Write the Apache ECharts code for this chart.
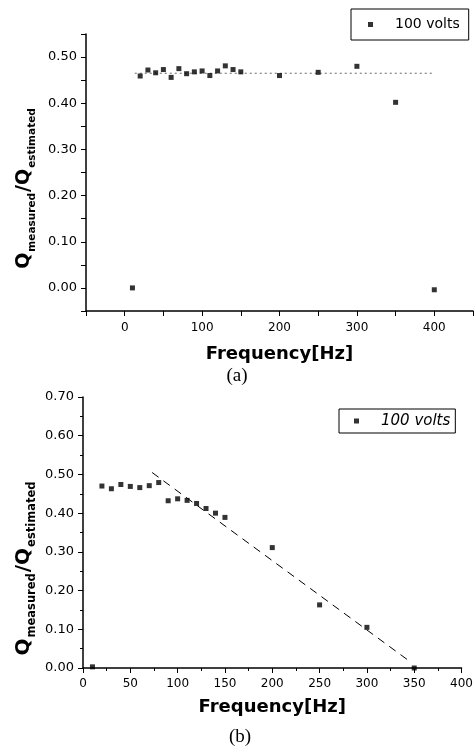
<!DOCTYPE html>
<html>
<head>
<meta charset="utf-8">
<script src="https://cdn.jsdelivr.net/npm/echarts@6/dist/echarts.min.js"></script>
<style>
  html, body { margin: 0; padding: 0; background: #fff; }
  #chart { width: 476px; height: 746px; }
</style>
</head>
<body>
<div id="chart"></div>
<script>
// (a) Q ratio vs frequency
const freqA = [10, 20, 30, 40, 50, 60, 70, 80, 90, 100, 110, 120, 130, 140, 150, 200, 250, 300, 350, 400]
const valA = [0.000, 0.459, 0.472, 0.466, 0.473, 0.456, 0.475, 0.464, 0.468, 0.470, 0.460, 0.470, 0.481, 0.473, 0.468, 0.460, 0.467, 0.480, 0.402, -0.004]
// dotted mean line in (a)
const fitAX = [13, 398]
const fitAY = [0.465, 0.465]

// (b) Q ratio vs frequency
const freqB = [10, 20, 30, 40, 50, 60, 70, 80, 90, 100, 110, 120, 130, 140, 150, 200, 250, 300, 350]
const valB = [0.003, 0.470, 0.463, 0.474, 0.469, 0.466, 0.471, 0.479, 0.432, 0.437, 0.433, 0.425, 0.412, 0.400, 0.389, 0.311, 0.163, 0.105, 0.000]
// dashed trend line in (b)
const fitBX = [73, 347]
const fitBY = [0.505, 0.014]

const seriesName = '100 volts'
const xName = 'Frequency[Hz]'
const yNameRich = '{q|Q}{s|measured}{q|/Q}{s|estimated}'

const font = 'DejaVu Sans'
const pairs = (xs, ys) => xs.map((x, i) => [x, ys[i]])

const axisLine = { onZero: false, lineStyle: { color: '#000', width: 1.5 } }
const axisTick = { inside: false, length: 5, lineStyle: { color: '#000', width: 1 } }

// rotated y title, subscript pushed down with top padding
function yTitle(big, small, pad) {
  return {
    text: yNameRich,
    align: 'center',
    verticalAlign: 'middle',
    rich: {
      q: { fontFamily: font, fontWeight: 'bold', fontSize: big, lineHeight: big + 4, verticalAlign: 'top', fill: '#000' },
      s: { fontFamily: font, fontWeight: 'bold', fontSize: small, lineHeight: small, verticalAlign: 'bottom', padding: [pad, 1, 0, 1], fill: '#000' }
    }
  }
}

const option = {
  animation: false,
  backgroundColor: '#fff',
  grid: [
    { left: 86, top: 34, width: 392, height: 277 },
    { left: 83, top: 397, width: 382, height: 271 }
  ],
  legend: [
    {
      data: [seriesName],
      left: 351,
      top: 9,
      padding: [6, 9, 6, 17],
      itemWidth: 5,
      itemHeight: 5,
      icon: 'rect',
      selectedMode: false,
      borderColor: '#000',
      borderWidth: 1,
      textStyle: { fontFamily: font, fontSize: 14, lineHeight: 19, color: '#000', padding: [0, 0, 0, 17] }
    },
    {
      data: [seriesName],
      left: 339,
      top: 409,
      padding: [3, 5, 3, 15],
      itemWidth: 5,
      itemHeight: 5,
      icon: 'rect',
      selectedMode: false,
      borderColor: '#000',
      borderWidth: 1,
      textStyle: { fontFamily: font, fontSize: 15, fontStyle: 'italic', lineHeight: 18, color: '#000', padding: [0, 0, 0, 17] }
    }
  ],
  xAxis: [
    {
      gridIndex: 0,
      type: 'value',
      min: -50,
      max: 450,
      interval: 50,
      name: xName,
      nameLocation: 'middle',
      nameGap: 34,
      nameTextStyle: { fontFamily: font, fontWeight: 'bold', fontSize: 18, color: '#000' },
      axisLine: axisLine,
      axisTick: axisTick,
      splitLine: { show: false },
      axisLabel: {
        margin: 11,
        fontFamily: font,
        fontSize: 12,
        color: '#000',
        formatter: v => (v >= 0 && v <= 400 && Math.round(v) % 100 === 0) ? String(Math.round(v)) : ''
      }
    },
    {
      gridIndex: 1,
      type: 'value',
      min: 0,
      max: 400,
      interval: 50,
      name: xName,
      nameLocation: 'middle',
      nameGap: 30,
      nameTextStyle: { fontFamily: font, fontWeight: 'bold', fontSize: 18, color: '#000' },
      axisLine: axisLine,
      axisTick: axisTick,
      minorTick: { show: true, splitNumber: 2, length: 3, lineStyle: { color: '#000' } },
      splitLine: { show: false },
      axisLabel: { margin: 10, fontFamily: font, fontSize: 12, color: '#000' }
    }
  ],
  yAxis: [
    {
      gridIndex: 0,
      type: 'value',
      min: -0.05,
      max: 0.55,
      interval: 0.05,
      axisLine: axisLine,
      axisTick: axisTick,
      splitLine: { show: false },
      axisLabel: {
        margin: 9,
        fontFamily: font,
        fontSize: 13,
        color: '#000',
        formatter: v => {
          const n = Math.round(v * 100)
          return (n >= 0 && n <= 50 && n % 10 === 0) ? (n / 100).toFixed(2) : ''
        }
      }
    },
    {
      gridIndex: 1,
      type: 'value',
      min: 0,
      max: 0.7,
      interval: 0.1,
      axisLine: axisLine,
      axisTick: axisTick,
      minorTick: { show: true, splitNumber: 2, length: 3, lineStyle: { color: '#000' } },
      splitLine: { show: false },
      axisLabel: { margin: 9, fontFamily: font, fontSize: 13, color: '#000', formatter: v => v.toFixed(2) }
    }
  ],
  series: [
    {
      name: 'fitA',
      type: 'line',
      xAxisIndex: 0,
      yAxisIndex: 0,
      data: pairs(fitAX, fitAY),
      symbol: 'none',
      lineStyle: { color: '#666', width: 1, type: [2, 3] },
      z: 1
    },
    {
      name: seriesName,
      type: 'scatter',
      xAxisIndex: 0,
      yAxisIndex: 0,
      data: pairs(freqA, valA),
      symbol: 'rect',
      symbolSize: 5,
      itemStyle: { color: '#000' },
      z: 3
    },
    {
      name: 'fitB',
      type: 'line',
      xAxisIndex: 1,
      yAxisIndex: 1,
      data: pairs(fitBX, fitBY),
      symbol: 'none',
      lineStyle: { color: '#000', width: 1, type: [8, 6] },
      z: 1
    },
    {
      name: seriesName,
      type: 'scatter',
      xAxisIndex: 1,
      yAxisIndex: 1,
      data: pairs(freqB, valB),
      symbol: 'rect',
      symbolSize: 5,
      itemStyle: { color: '#000' },
      z: 3
    }
  ],
  graphic: [
    { type: 'text', x: 26, y: 188, rotation: Math.PI / 2, style: yTitle(19, 10.5, 21) },
    { type: 'text', x: 26, y: 568, rotation: Math.PI / 2, style: yTitle(20, 11.5, 22) },
    {
      type: 'text',
      x: 237,
      y: 376,
      style: { text: '(a)', fontFamily: 'Liberation Serif', fontSize: 19, fill: '#000', align: 'center', verticalAlign: 'middle' }
    },
    {
      type: 'text',
      x: 240,
      y: 737,
      style: { text: '(b)', fontFamily: 'Liberation Serif', fontSize: 19, fill: '#000', align: 'center', verticalAlign: 'middle' }
    }
  ]
}

const myChart = echarts.init(document.getElementById('chart'))
myChart.setOption(option)
</script>
</body>
</html>
